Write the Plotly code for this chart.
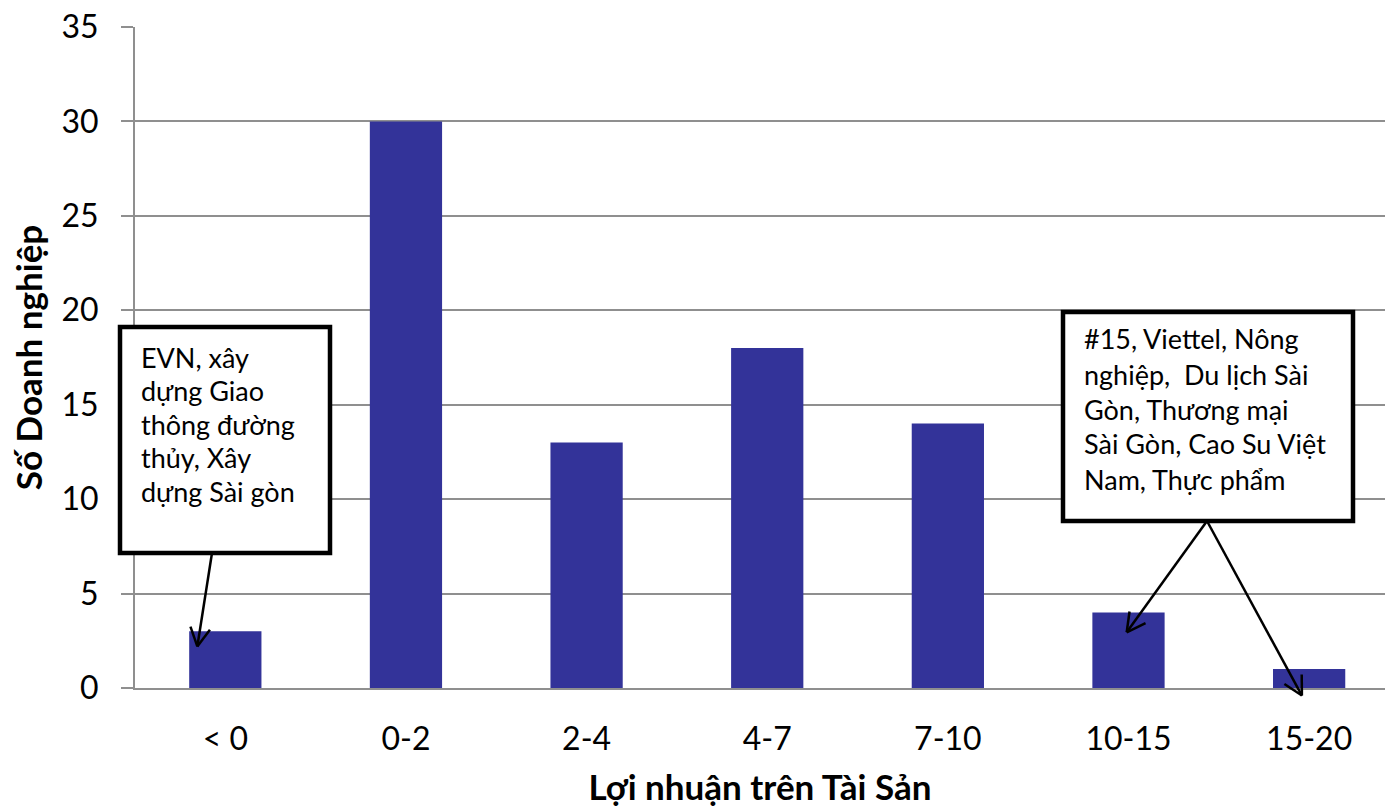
import math
import plotly.graph_objects as go

# Return-on-assets buckets and number of enterprises in each
categories = ["< 0", "0-2", "2-4", "4-7", "7-10", "10-15", "15-20"]
counts = [3, 30, 13, 18, 14, 4, 1]
y_ticks = [0, 5, 10, 15, 20, 25, 30, 35]

left_note = ["EVN, xây", "dựng Giao", "thông đường", "thủy, Xây", "dựng Sài gòn"]
right_note = ["#15, Viettel, Nông", "nghiệp,  Du lịch Sài", "Gòn, Thương mại",
              "Sài Gòn, Cao Su Việt", "Nam, Thực phẩm"]

FONT = "Lato"
BAR = "#333399"
GRID = "#8f8f8f"

# Figure geometry
FIG_W, FIG_H = 1385, 807
M_L, M_R, M_T, M_B = 135, 0, 27, 119
PW, PH = FIG_W - M_L - M_R, FIG_H - M_T - M_B
X_RANGE = [-0.5, 6.42]
Y_RANGE = [0, 35]


def dx_to_px(v):
    return M_L + (v - X_RANGE[0]) / (X_RANGE[1] - X_RANGE[0]) * PW


def dy_to_px(v):
    return M_T + PH - (v - Y_RANGE[0]) / (Y_RANGE[1] - Y_RANGE[0]) * PH


def to_paper(px, py):
    return (px - M_L) / PW, (M_T + PH - py) / PH


fig = go.Figure(go.Bar(
    x=categories, y=counts, width=0.4,
    marker=dict(color=BAR, line=dict(width=0)),
))

shapes = []
annotations = []


def note_box(x0, y0, x1, y1, lines, text_x, first_y, step, size):
    """Bordered callout box (pixel geometry) with left-aligned lines."""
    px0, py0 = to_paper(x0, y1)
    px1, py1 = to_paper(x1, y0)
    shapes.append(dict(type="rect", xref="paper", yref="paper",
                       x0=px0, y0=py0, x1=px1, y1=py1,
                       fillcolor="white", line=dict(color="black", width=4.5),
                       layer="above"))
    for i, txt in enumerate(lines):
        ax, ay = to_paper(text_x, first_y + i * step)
        annotations.append(dict(text=txt, xref="paper", yref="paper",
                                x=ax, y=ay, xanchor="left", yanchor="middle",
                                showarrow=False,
                                font=dict(family=FONT, size=size, color="black")))


def arrow(tail, head_x, head_y, arm=21, spread=28):
    """Open-headed arrow from a pixel tail to a data-space head."""
    hx, hy = dx_to_px(head_x), dy_to_px(head_y)
    tx, ty = tail
    x0, y0 = to_paper(tx, ty)
    x1, y1 = to_paper(hx, hy)
    shapes.append(dict(type="line", xref="paper", yref="paper",
                       x0=x0, y0=y0, x1=x1, y1=y1,
                       line=dict(color="black", width=2.5), layer="above"))
    ang = math.atan2(ty - hy, tx - hx)
    for s in (-1, 1):
        a = ang + s * math.radians(spread)
        ex, ey = hx + arm * math.cos(a), hy + arm * math.sin(a)
        e0, e1 = to_paper(ex, ey)
        shapes.append(dict(type="line", xref="paper", yref="paper",
                           x0=x1, y0=y1, x1=e0, y1=e1,
                           line=dict(color="black", width=2.5), layer="above"))


note_box(120, 327, 330, 553, left_note, 139, 357, 33.5, 27)
note_box(1063, 312, 1353, 521, right_note, 1082, 339, 35, 27)

arrow((212, 553), -0.155, 2.2)
arrow((1207, 521), 4.99, 2.95)
arrow((1207, 521), 5.96, -0.4)

fig.update_layout(
    template="none",
    width=FIG_W, height=FIG_H,
    margin=dict(l=M_L, r=M_R, t=M_T, b=M_B, pad=0),
    paper_bgcolor="white", plot_bgcolor="white",
    showlegend=False,
    bargap=0.6,
    font=dict(family=FONT, color="black"),
    shapes=shapes,
    annotations=annotations,
    xaxis=dict(
        type="category", range=X_RANGE, automargin=False,
        showgrid=False, zeroline=False,
        showline=True, linecolor=GRID, linewidth=2,
        ticks="", ticklabelstandoff=22,
        tickfont=dict(family=FONT, size=32, color="black"),
        title=dict(text="Lợi nhuận trên Tài Sản", standoff=24,
                   font=dict(family=FONT, size=35, color="black", weight="bold")),
    ),
    yaxis=dict(
        range=Y_RANGE, tickvals=y_ticks, automargin=False,
        showgrid=True, gridcolor=GRID, gridwidth=2,
        zeroline=False,
        showline=True, linecolor=GRID, linewidth=2,
        ticks="outside", ticklen=12, tickcolor=GRID, tickwidth=2,
        ticklabelstandoff=16,
        tickfont=dict(family=FONT, size=32, color="black"),
        title=dict(text="Số Doanh nghiệp", standoff=8,
                   font=dict(family=FONT, size=35, color="black", weight="bold")),
    ),
)

fig.write_html("out.html")
